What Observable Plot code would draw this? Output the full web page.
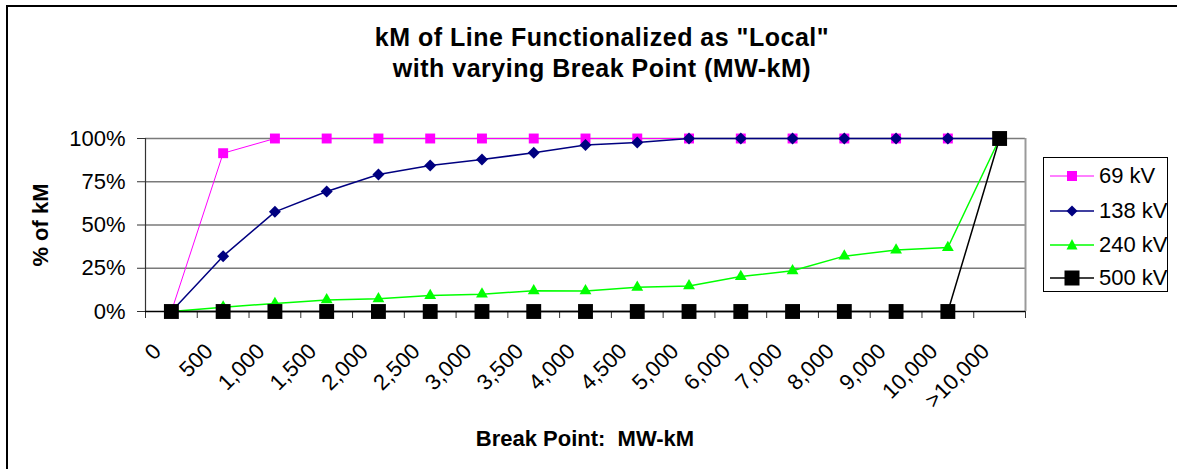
<!DOCTYPE html>
<html>
<head>
<meta charset="utf-8">
<script src="https://cdn.jsdelivr.net/npm/d3@7"></script>
<script src="https://cdn.jsdelivr.net/npm/@observablehq/plot@0.6"></script>
<style>
  body { margin: 0; background: #fff; }
  #wrap { position: relative; width: 1177px; height: 469px; overflow: hidden; font-family: "Liberation Sans", Arial, sans-serif; color: #000; }
  #frame { position: absolute; left: 6px; top: 5px; width: 1300px; height: 600px; border-left: 2px solid #000; border-top: 2px solid #000; }
  #chart { position: absolute; left: 0; top: 0; }
  #title { position: absolute; left: 0; top: 22px; width: 1204px; text-align: center; font-weight: bold; font-size: 25px; letter-spacing: 0.5px; line-height: 31px; white-space: nowrap; }
  #xlabel { position: absolute; left: 0; top: 428px; width: 1170px; text-align: center; font-weight: bold; font-size: 22px; line-height: 22px; white-space: pre; }
  #ylabel { position: absolute; left: 41px; top: 225px; transform: translate(-50%, -50%) rotate(-90deg); font-weight: bold; font-size: 22px; white-space: nowrap; }
  #legend { position: absolute; left: 1043px; top: 157px; width: 125px; height: 135px; border: 1px solid #000; box-sizing: border-box; background: #fff; }
  .lrow { position: absolute; left: 0; height: 30px; width: 125px; }
  .lrow svg { position: absolute; left: 0; top: 0; }
  .lrow span { position: absolute; left: 55px; top: 3px; font-size: 22px; line-height: 24px; white-space: nowrap; }
</style>
</head>
<body>
<div id="wrap">
  <div id="frame"></div>
  <div id="chart"></div>
  <div id="title">kM of Line Functionalized as "Local"<br>with varying Break Point (MW-kM)</div>
  <div id="ylabel">% of kM</div>
  <div id="xlabel">Break Point:  MW-kM</div>
  <div id="legend"></div>
</div>
<script>
// ---- data ----
const categories = ["0", "500", "1,000", "1,500", "2,000", "2,500", "3,000", "3,500", "4,000", "4,500", "5,000", "6,000", "7,000", "8,000", "9,000", "10,000", ">10,000"];
const seriesNames = ["69 kV", "138 kV", "240 kV", "500 kV"];
const kv69  = [0, 91.5, 100, 100, 100, 100, 100, 100, 100, 100, 100, 100, 100, 100, 100, 100, 100];
const kv138 = [0, 32, 57.6, 69.4, 79.2, 84.4, 87.9, 91.7, 96.2, 97.7, 100, 100, 100, 100, 100, 100, 100];
const kv240 = [0, 2.5, 4.6, 6.7, 7.3, 9.2, 10, 12, 11.9, 14, 14.8, 20.2, 23.5, 32, 35.5, 37, 100];
const kv500 = [0, 0, 0, 0, 0, 0, 0, 0, 0, 0, 0, 0, 0, 0, 0, 0, 100];
const yTicks = [0, 25, 50, 75, 100];
const seriesColors = ["#FF00FF", "#000080", "#00FF00", "#000000"];

// ---- build ----
const seriesValues = [kv69, kv138, kv240, kv500];
const styles = [
  {symbol: "square", r: 5.6, lw: 1},
  {symbol: "diamond2", r: 5.4, lw: 1.5},
  {symbol: "triangle", r: 4.4, lw: 1.5},
  {symbol: "square", r: 8.4, lw: 1.5}
];
const series = seriesNames.map((name, k) =>
  seriesValues[k].map((v, i) => ({series: name, cat: categories[i], i, v}))
);

const marks = [
  Plot.ruleY(yTicks.filter(d => d > 0), {stroke: "#7a7a7a", strokeWidth: 1.4}),
  Plot.ruleX([categories.length], {y1: 0, y2: 100, stroke: "#9a9a9a", strokeWidth: 2}),
  Plot.ruleX([0], {y1: 0, y2: 100, stroke: "#333", strokeWidth: 1.2}),
  Plot.axisY({ticks: yTicks, tickSize: 8, tickPadding: 12, tickFormat: d => d + "%", fontSize: 22, fill: "#000", stroke: "#333", label: null}),
  Plot.axisX({ticks: d3.range(categories.length + 1), tickSize: 7, tickFormat: () => "", stroke: "#333", label: null}),
  Plot.ruleY([0], {stroke: "#000", strokeWidth: 1.5}),
  Plot.text(categories, {x: (d, i) => i + 0.5, y: () => 0, text: d => d, rotate: -45, textAnchor: "end", dx: -14, dy: 36, fontSize: 22, fill: "#000"})
];
series.forEach((rows, k) => {
  marks.push(Plot.line(rows, {x: d => d.i + 0.5, y: "v", stroke: seriesColors[k], strokeWidth: styles[k].lw}));
  marks.push(Plot.dot(rows, {x: d => d.i + 0.5, y: "v", symbol: styles[k].symbol, r: styles[k].r, fill: seriesColors[k], stroke: "none"}));
});

const plot = Plot.plot({
  width: 1177,
  height: 469,
  marginLeft: 145,
  marginRight: 152,
  marginTop: 138,
  marginBottom: 158,
  x: {type: "linear", domain: [0, categories.length], axis: null},
  y: {domain: [0, 100], axis: null},
  style: {fontFamily: "Liberation Sans, Arial, sans-serif", background: "transparent", overflow: "visible"},
  marks
});
document.getElementById("chart").appendChild(plot);

// ---- legend ----
const legend = document.getElementById("legend");
const rowTops = [3, 38, 72, 105];
seriesNames.forEach((name, k) => {
  const row = document.createElement("div");
  row.className = "lrow";
  row.style.top = rowTops[k] + "px";
  const c = seriesColors[k];
  let marker = "";
  if (k === 0) marker = `<rect x="23" y="10" width="10" height="10" fill="${c}"/>`;
  if (k === 1) marker = `<polygon points="28,9.5 33.5,15 28,20.5 22.5,15" fill="${c}"/>`;
  if (k === 2) marker = `<polygon points="28,9 33.5,19.5 22.5,19.5" fill="${c}"/>`;
  if (k === 3) marker = `<rect x="20.5" y="7.5" width="15" height="15" fill="${c}"/>`;
  row.innerHTML = `<svg width="55" height="30"><line x1="6" x2="50" y1="15" y2="15" stroke="${c}" stroke-width="${styles[k].lw}"/>${marker}</svg><span>${name}</span>`;
  legend.appendChild(row);
});
</script>
</body>
</html>
